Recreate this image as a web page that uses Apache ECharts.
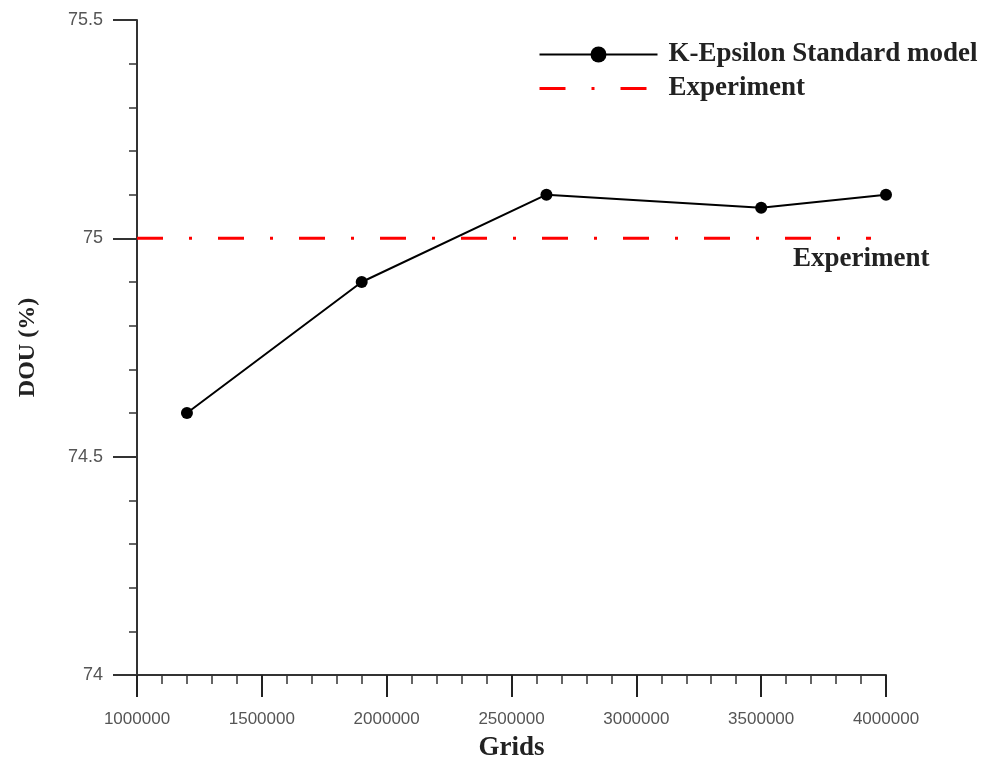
<!DOCTYPE html>
<html>
<head>
<meta charset="utf-8">
<script src="https://cdn.jsdelivr.net/npm/echarts@6/dist/echarts.min.js"></script>
<style>
  html, body { margin: 0; padding: 0; background: #fff; }
  #main { width: 1004px; height: 764px; }
</style>
</head>
<body>
<div id="main"></div>
<script>
// grid sizes and DOU values
var grids = [1200000, 1900000, 2640000, 3500000, 4000000];
var dou = [74.6, 74.9, 75.1, 75.07, 75.1];
// experiment reference line (drawn across the plot)
var expX = [1000000, 3940000];
var expY = [75, 75];
var seriesNames = ['K-Epsilon Standard model', 'Experiment'];

var serif = '"Liberation Serif", "Times New Roman", serif';
var sans = '"Liberation Sans", Arial, sans-serif';

var myChart = echarts.init(document.getElementById('main'));

myChart.setOption({
  backgroundColor: '#fff',
  animation: false,
  legend: {
    orient: 'vertical',
    left: 533,
    top: 36,
    itemWidth: 118,
    itemHeight: 20,
    itemGap: 7,
    textStyle: {
      fontFamily: serif,
      fontWeight: 'bold',
      fontSize: 27,
      color: '#222',
      padding: [0, 0, 0, 6]
    },
    data: [
      { name: seriesNames[0], lineStyle: { width: 2 } },
      // hide the symbol so only the dash-dot line shows
      { name: seriesNames[1], itemStyle: { opacity: 0 }, lineStyle: { width: 3 } }
    ]
  },
  grid: {
    left: 137,
    right: 118,
    top: 20,
    bottom: 89,
    outerBoundsMode: 'none'
  },
  xAxis: {
    type: 'value',
    min: 1000000,
    max: 4000000,
    interval: 500000,
    name: 'Grids',
    nameLocation: 'middle',
    nameGap: 60,
    nameTextStyle: {
      fontFamily: serif,
      fontWeight: 'bold',
      fontSize: 27,
      color: '#222'
    },
    axisLine: { lineStyle: { color: '#333', width: 2 } },
    axisTick: { length: 22, lineStyle: { color: '#222', width: 2 } },
    minorTick: { show: true, splitNumber: 5, length: 9, lineStyle: { color: '#333', width: 1.5 } },
    axisLabel: {
      margin: 36,
      fontFamily: sans,
      fontSize: 17,
      color: '#555',
      formatter: function (v) { return String(v); }
    },
    splitLine: { show: false }
  },
  yAxis: {
    type: 'value',
    min: 74,
    max: 75.5,
    interval: 0.5,
    name: 'DOU (%)',
    nameLocation: 'middle',
    nameGap: 97,
    nameTextStyle: {
      fontFamily: serif,
      fontWeight: 'bold',
      fontSize: 24,
      color: '#222'
    },
    axisLine: { show: true, lineStyle: { color: '#333', width: 2 } },
    axisTick: { show: true, length: 24, lineStyle: { color: '#333', width: 2 } },
    minorTick: { show: true, splitNumber: 5, length: 8, lineStyle: { color: '#333', width: 1.5 } },
    axisLabel: {
      margin: 34,
      fontFamily: sans,
      fontSize: 18,
      color: '#555'
    },
    splitLine: { show: false }
  },
  series: [
    {
      name: seriesNames[0],
      type: 'line',
      data: grids.map(function (g, i) { return [g, dou[i]]; }),
      symbol: 'circle',
      symbolSize: 12,
      lineStyle: { color: '#000', width: 2 },
      itemStyle: { color: '#000' },
      z: 3
    },
    {
      name: seriesNames[1],
      type: 'line',
      data: expX.map(function (x, i) { return [x, expY[i]]; }),
      symbol: 'none',
      lineStyle: { color: '#ff0000', width: 3, type: [26, 26, 3, 26] },
      itemStyle: { color: '#ff0000' },
      endLabel: {
        show: true,
        formatter: 'Experiment',
        offset: [-86, 21],
        fontFamily: serif,
        fontWeight: 'bold',
        fontSize: 27,
        color: '#222'
      },
      z: 2
    }
  ]
});
</script>
</body>
</html>
